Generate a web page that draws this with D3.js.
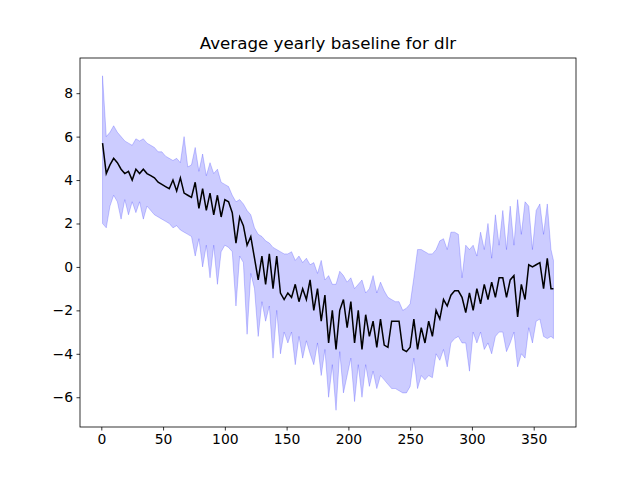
<!DOCTYPE html>
<html><head><meta charset="utf-8">
<script src="https://cdn.jsdelivr.net/npm/d3@7"></script>
<style>body{margin:0;background:#fff}text{font-family:"DejaVu Sans",sans-serif}</style>
</head><body><div id="chart"></div>
<script>
const days = d3.range(1, 365, 3).concat([366]);
const meanVals = [5.7,4.3,4.7,5.0,4.8,4.5,4.3,4.4,4.0,4.5,4.3,4.5,4.3,4.2,4.1,3.9,3.8,3.7,3.6,4.0,3.5,4.1,3.4,3.3,3.2,3.9,2.7,3.6,2.6,3.4,2.4,3.3,2.3,3.1,3.0,2.5,1.1,2.3,1.9,1.0,1.4,0.4,-0.6,0.5,-0.8,0.6,-1.0,0.5,-1.2,-1.5,-1.2,-1.4,-0.8,-1.6,-1.0,-1.5,-0.6,-2.0,-1.0,-2.5,-1.3,-3.5,-2.0,-3.8,-2.0,-1.5,-2.8,-1.6,-3.5,-2.0,-3.8,-2.2,-3.2,-2.5,-3.7,-2.4,-3.6,-3.7,-2.5,-2.5,-2.5,-3.8,-3.9,-3.7,-2.4,-3.8,-2.8,-3.5,-2.5,-3.2,-2.0,-2.4,-1.5,-1.8,-1.3,-1.1,-1.1,-1.4,-2.1,-1.2,-2.0,-1.0,-1.7,-0.8,-1.5,-0.7,-1.4,-0.5,-0.5,-1.4,-0.6,-0.4,-2.3,-0.8,-1.5,0.1,0.0,0.1,0.2,-1.0,0.4,-1.0,-1.0];
const lowerVals = [2.0,1.8,2.8,3.3,3.0,2.2,3.1,2.4,3.0,2.5,3.0,2.2,2.8,2.6,2.4,2.3,2.2,2.1,2.0,1.8,1.9,1.7,1.6,1.5,1.4,0.5,1.3,0.0,1.0,-0.5,1.0,-0.8,0.7,1.0,0.9,0.7,-1.8,0.5,0.2,-3.1,-0.3,-1.0,-3.2,-1.6,-2.5,-1.8,-4.2,-2.0,-4.0,-3.0,-3.5,-3.0,-4.5,-3.2,-4.2,-3.4,-4.0,-4.5,-3.5,-5.0,-3.8,-6.0,-4.5,-6.6,-3.9,-5.8,-5.0,-4.2,-6.2,-4.5,-6.0,-4.5,-5.5,-4.8,-5.6,-5.0,-5.2,-5.4,-5.6,-5.6,-5.7,-5.8,-5.8,-5.5,-4.2,-5.6,-5.0,-5.2,-5.0,-5.1,-4.0,-4.3,-3.8,-4.6,-3.5,-3.3,-3.2,-3.5,-3.5,-4.8,-3.0,-3.5,-3.0,-3.8,-3.5,-4.0,-3.2,-3.0,-3.0,-3.9,-3.5,-3.0,-4.6,-4.0,-4.2,-2.8,-3.5,-2.5,-2.4,-3.2,-3.3,-3.2,-3.3];
const upperVals = [8.8,6.0,6.2,6.5,6.2,6.0,5.8,5.7,5.6,5.9,5.8,5.9,5.7,5.6,5.5,5.3,5.3,5.1,5.0,4.9,5.0,4.8,6.0,4.6,4.7,5.5,4.4,5.2,4.2,4.8,4.3,4.5,3.9,3.8,3.7,3.3,3.0,3.1,2.9,2.6,2.4,1.8,1.5,1.4,1.2,1.1,0.9,0.8,0.7,0.6,0.6,0.7,0.3,0.5,0.2,0.4,0.1,0.2,-0.3,0.3,-0.6,-0.4,-0.8,-0.8,-0.2,-0.4,-0.7,-0.5,-1.0,-0.8,-0.6,-1.2,-1.0,-0.4,-1.2,-0.7,-1.1,-1.4,-1.5,-1.6,-1.6,-2.0,-1.9,-1.7,-0.5,0.8,0.8,0.7,0.6,0.6,0.8,1.2,1.3,0.8,1.6,1.6,1.5,-0.5,1.0,0.8,1.0,0.5,1.6,0.8,2.0,0.4,2.4,1.0,2.6,0.8,2.8,1.0,3.1,1.5,3.0,2.8,0.8,2.6,2.9,1.5,2.9,0.8,0.3];
const xTicks = [0,50,100,150,200,250,300,350];
const yTicks = [-6,-4,-2,0,2,4,6,8];
const title = "Average yearly baseline for dlr";

const data = days.map((d, i) => ({day: d, mean: meanVals[i], lo: lowerVals[i], hi: upperVals[i]}));

const W = 640, H = 480;
const margin = {top: 58, right: 64, bottom: 53, left: 80};
const w = W - margin.left - margin.right, h = H - margin.top - margin.bottom;

const svg = d3.select("#chart").append("svg").attr("width", W).attr("height", H);
const g = svg.append("g").attr("transform", `translate(${margin.left},${margin.top})`);

const x = d3.scaleLinear().domain([-17.25, 384.25]).range([0, w]);
const y = d3.scaleLinear().domain([-7.37, 9.62]).range([h, 0]);

g.append("path").datum(data)
  .attr("d", d3.area().x(d => x(d.day)).y0(d => y(d.lo)).y1(d => y(d.hi)))
  .attr("fill", "blue").attr("fill-opacity", 0.2)
  .attr("stroke", "blue").attr("stroke-opacity", 0.2).attr("stroke-width", 1);

g.append("path").datum(data)
  .attr("d", d3.line().x(d => x(d.day)).y(d => y(d.mean)))
  .attr("fill", "none").attr("stroke", "black").attr("stroke-width", 1.5);

const xAxis = g.append("g").attr("transform", `translate(0,${h})`)
  .call(d3.axisBottom(x).tickValues(xTicks).tickSize(3.5).tickPadding(3.5));
const yAxis = g.append("g")
  .call(d3.axisLeft(y).tickValues(yTicks).tickSize(3.5).tickPadding(3.5).tickFormat(d3.format("d")));
[xAxis, yAxis].forEach(a => {
  a.selectAll("text").attr("font-size", 13.9).attr("font-family", "DejaVu Sans").attr("fill", "black");
  a.select(".domain").remove();
  a.selectAll("line").attr("stroke", "black").attr("stroke-width", 0.8);
});
yAxis.selectAll("text").text(d => String(d).replace("-", "\u2212"));

g.append("rect").attr("width", w).attr("height", h)
  .attr("fill", "none").attr("stroke", "black").attr("stroke-width", 0.8);

svg.append("text").attr("x", margin.left + w / 2).attr("y", margin.top - 9)
  .attr("text-anchor", "middle").attr("font-size", 16.7).text(title);
</script></body></html>
